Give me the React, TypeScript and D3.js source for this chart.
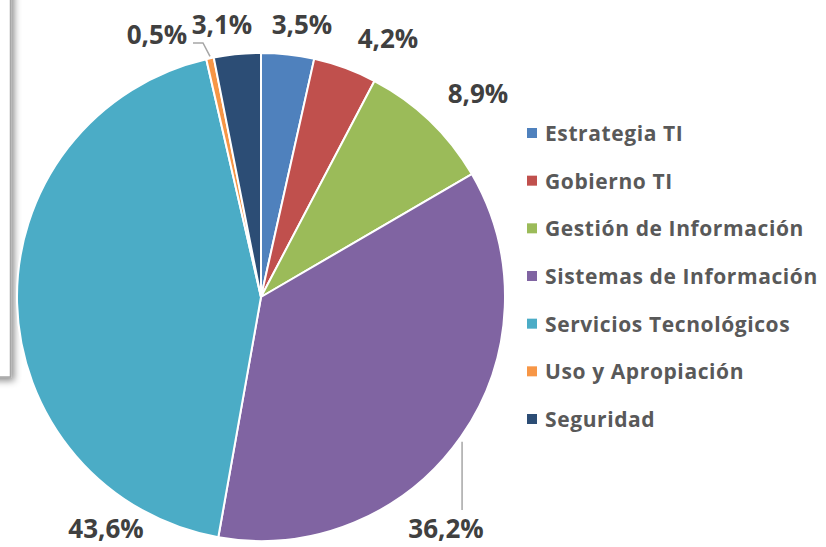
import React from "react";
import * as d3 from "d3";

const categories = [
  "Estrategia TI",
  "Gobierno TI",
  "Gestión de Información",
  "Sistemas de Información",
  "Servicios Tecnológicos",
  "Uso y Apropiación",
  "Seguridad",
];
const values = [3.5, 4.2, 8.9, 36.2, 43.6, 0.5, 3.1];
const valueLabels = ["3,5%", "4,2%", "8,9%", "36,2%", "43,6%", "0,5%", "3,1%"];
const colors = ["#4F81BD", "#C0504D", "#9BBB59", "#8064A2", "#4BACC6", "#F79646", "#2C4D75"];

// label placement relative to pie centre (layout only)
const labelOffsets: [number, number][] = [
  [41, -273],
  [127, -259],
  [217, -204],
  [185, 231],
  [-155, 231],
  [-104, -263],
  [-39, -273],
];

const W = 826;
const H = 547;
const cx = 261;
const cy = 297;
const R = 244;

export default function App() {
  const pie = d3.pie<number>().sort(null).value((d) => d).startAngle(0).endAngle(2 * Math.PI);
  const arcs = pie(values);
  const arc = d3.arc<d3.PieArcDatum<number>>().innerRadius(0).outerRadius(R);
  const font = "'Open Sans', 'DejaVu Sans', sans-serif";

  const mid = (a: d3.PieArcDatum<number>) => (a.startAngle + a.endAngle) / 2;
  const edge = (ang: number): [number, number] => [Math.sin(ang) * R, -Math.cos(ang) * R];
  const sisEdge = edge(mid(arcs[3]));
  const usoEdge = edge(mid(arcs[5]));

  const legendY = d3.scaleLinear().domain([0, categories.length - 1]).range([133, 419]);

  return (
    <svg
      width={W}
      height={H}
      style={{ position: "absolute", left: 0, top: 0, background: "#fff" }}
      fontFamily={font}
    >
      <defs>
        <filter id="sh" x="-50%" y="-10%" width="200%" height="130%">
          <feDropShadow dx="3" dy="3" stdDeviation="3.5" floodColor="#000" floodOpacity="0.45" />
        </filter>
      </defs>
      <rect x={-30} y={-30} width={40.5} height={407} fill="#fff" stroke="#a6a6a6" strokeWidth={1.5} filter="url(#sh)" />
      <g transform={`translate(${cx},${cy})`}>
        {arcs.map((a, i) => (
          <path key={i} d={arc(a) || ""} fill={colors[i]} stroke="#fff" strokeWidth={2} strokeLinejoin="round" />
        ))}
        <line x1={sisEdge[0] + 1} y1={sisEdge[1] + 5} x2={sisEdge[0] + 1} y2={213} stroke="#a6a6a6" strokeWidth={1.5} />
        <polyline
          points={`${-68},${-254} ${-58},${-254} ${usoEdge[0]},${usoEdge[1] - 2}`}
          fill="none"
          stroke="#a6a6a6"
          strokeWidth={1.5}
        />
        {arcs.map((a, i) => (
          <text
            key={"l" + i}
            x={labelOffsets[i][0]}
            y={labelOffsets[i][1]}
            textAnchor="middle"
            dominantBaseline="central"
            fontSize={26}
            fontWeight="bold"
            fill="#404040"
          >
            {valueLabels[i]}
          </text>
        ))}
      </g>
      <g>
        {categories.map((c, i) => (
          <g key={c} transform={`translate(527,${legendY(i)})`}>
            <rect x={0} y={-5} width={10} height={10} fill={colors[i]} />
            <text
              x={18}
              y={0}
              dominantBaseline="central"
              fontSize={21}
              letterSpacing={0.6}
              fontWeight="bold"
              fill="#595959"
            >
              {c}
            </text>
          </g>
        ))}
      </g>
    </svg>
  );
}
